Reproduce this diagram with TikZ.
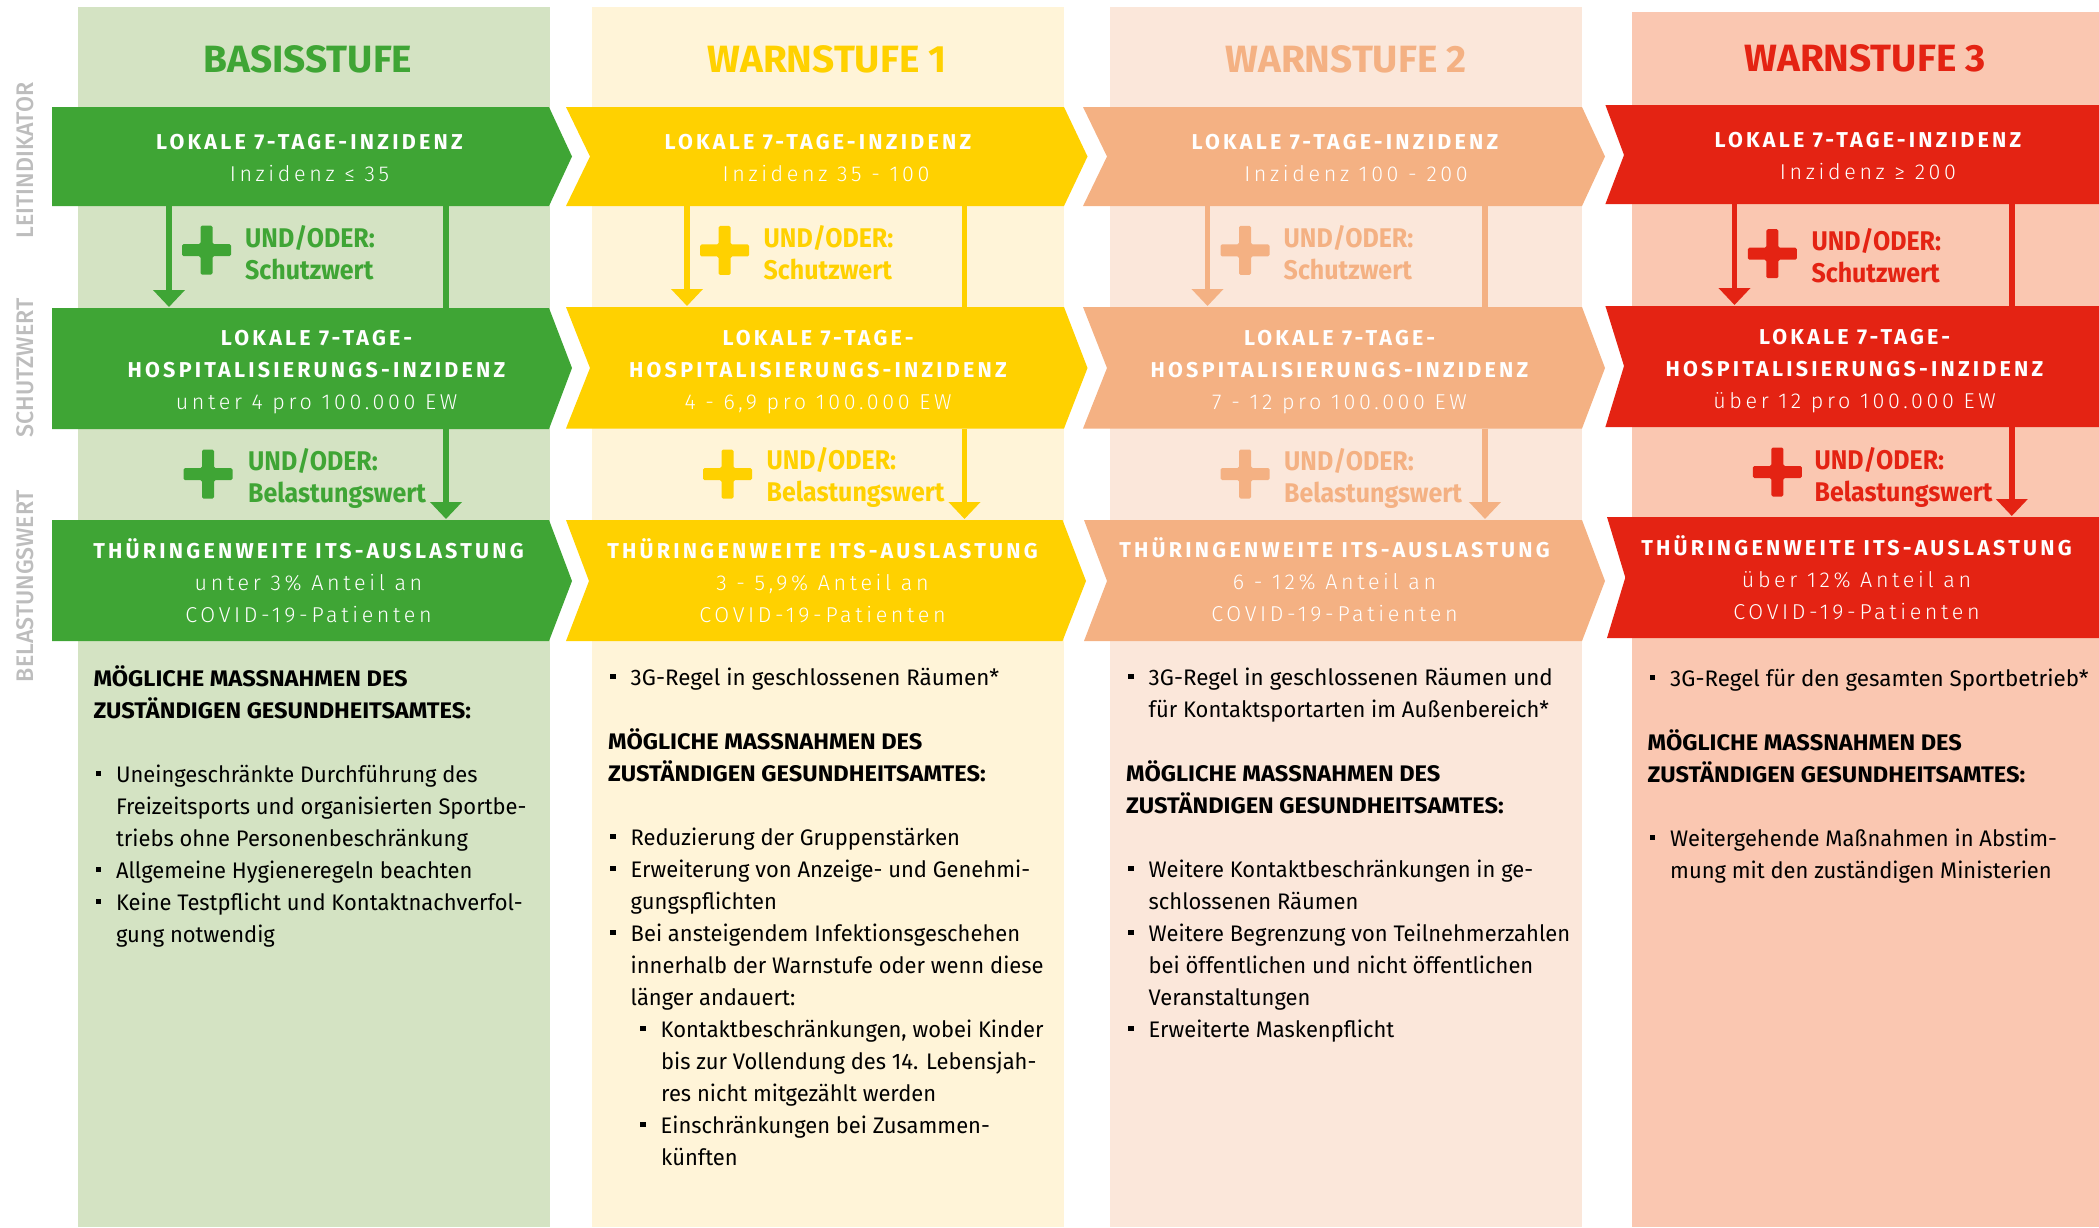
\documentclass[tikz,border=0pt]{standalone}
\usepackage{fontspec}
\usetikzlibrary{arrows.meta}
\setmainfont{Fira Sans}
\newfontfamily\bodyf[FakeStretch=0.975]{Fira Sans}
\newfontfamily\bodyw[FakeStretch=0.995]{Fira Sans}
\newfontfamily\hdfam[FakeStretch=1.05]{Fira Sans}
\newfontfamily\stufef[FakeStretch=1.02]{Fira Sans}
\newfontfamily\uofam[FakeStretch=0.925]{Fira Sans}
\newfontfamily\sidef[FakeStretch=0.965]{Fira Sans Medium}
\newfontfamily\titlef[LetterSpace=15]{Fira Sans}
\newfontfamily\subf[LetterSpace=17]{Fira Sans Light}
\definecolor{gr}{HTML}{3FA535}\definecolor{grbg}{HTML}{D4E3C3}
\definecolor{ye}{HTML}{FFD100}\definecolor{yebg}{HTML}{FFF4D8}
\definecolor{or}{HTML}{F4B183}\definecolor{orbg}{HTML}{FBE7DA}
\definecolor{re}{HTML}{E42313}\definecolor{rebg}{HTML}{FAC7B1}
\definecolor{lab}{HTML}{BDBDBD}
\tikzset{
 x=1pt,y=-1pt,
 chevbox/.style={inner sep=0pt,outer sep=0pt},
 chevlabel/.style={anchor=north,inner sep=0pt,align=center,text=white,font=\fontsize{21.5}{32}\selectfont,execute at begin node={\lineskiplimit=-100pt}},
 body/.style={anchor=north west,inner sep=0pt,align=left,text=black,font=\bodyf\fontsize{22.5}{32}\selectfont,execute at begin node={\lineskiplimit=-100pt}},
 stufe/.style={anchor=base,inner sep=0pt,font=\stufef\bfseries\fontsize{38}{40}\selectfont},
 undoder/.style={anchor=north west,inner sep=0pt,align=left,font=\uofam\bfseries\fontsize{27}{32}\selectfont,execute at begin node={\lineskiplimit=-100pt}},
 sidelabel/.style={anchor=base,inner sep=0pt,rotate=90,text=lab,font=\sidef\fontsize{24}{24}\selectfont},
 stem/.style={line width=5.5pt},
 arrowed/.style={stem,-{Triangle[width=31pt,length=17pt]}},
}
\newcommand\chev[9]{% name,color,L,N,R,T,top,bot,mid
 \fill[#2] (#3,#7) -- (#5,#7) -- (#6,#9) -- (#5,#8) -- (#3,#8) -- (#4,#9) -- cycle;
 \node[chevbox,minimum width={#5-#3},minimum height={#8-#7}] (#1) at ({(#3+#5)/2},{(#7+#8)/2}) {};
}
\newcommand\bfst{\rule{0pt}{18pt}}
\newcommand\tl[1]{{\titlef\bfseries #1}}
\newcommand\sbl[1]{{\subf #1}}
\newcommand\clab[4]{\node[chevlabel] (#1) at (#2,{#3-18}) {\bfst #4};}
\newcommand\bul{\makebox[20.5pt][l]{\rule[6pt]{5.5pt}{5.5pt}}}
\newcommand\bi{\hspace*{2pt}\bul}
\newcommand\bc{\hspace*{22.5pt}}
\newcommand\subi{\hspace*{32pt}\bul}
\newcommand\subc{\hspace*{53pt}}
\newcommand\hd[1]{{\hdfam\bfseries #1}}
\newcommand\wide[1]{{\bodyw #1}}
\newcommand\plusmark[4]{\fill[#2,rounded corners=1.5pt] ({#3-24.5},{#4-6}) -- ({#3-6},{#4-6}) -- ({#3-6},{#4-24.5}) -- ({#3+6},{#4-24.5}) -- ({#3+6},{#4-6}) -- ({#3+24.5},{#4-6}) -- ({#3+24.5},{#4+6}) -- ({#3+6},{#4+6}) -- ({#3+6},{#4+24.5}) -- ({#3-6},{#4+24.5}) -- ({#3-6},{#4+6}) -- ({#3-24.5},{#4+6}) -- cycle;}
\newcommand\uo[5]{\node[undoder,text=#2] (#1) at (#3,{#4-21}) {\rule{0pt}{20pt}UND/ODER:\\#5};}
\begin{document}
\begin{tikzpicture}
\useasboundingbox (0,0) rectangle (2099,1227);
% column backgrounds
\fill[grbg] (78,7) rectangle (550,1227);
\fill[yebg] (592,7) rectangle (1064,1227);
\fill[orbg] (1110,7) rectangle (1582,1227);
\fill[rebg] (1632,12) rectangle (2099,1227);
% side labels
\node[sidelabel] (s1) at (33,160.5) {LEITINDIKATOR};
\node[sidelabel] (s2) at (33,368) {SCHUTZWERT};
\node[sidelabel] (s3) at (33,586) {BELASTUNGSWERT};
% titles
\node[stufe,text=gr] (t1) at (308,72) {BASISSTUFE};
\node[stufe,text=ye] (t2) at (827,72) {WARNSTUFE 1};
\node[stufe,text=or] (t3) at (1346,72) {WARNSTUFE 2};
\node[stufe,text=re] (t4) at (1865,71) {WARNSTUFE 3};
% chevrons
\chev{a1}{gr}{52}{52}{549}{572}{107}{206}{156.5}
\chev{a2}{gr}{52}{52}{549}{572}{308}{429}{368}
\chev{a3}{gr}{52}{52}{549}{572}{520}{641}{581}
\chev{b1}{ye}{566}{590}{1064}{1087.5}{107}{206}{156.5}
\chev{b2}{ye}{566}{590}{1064}{1087.5}{307}{428.5}{368}
\chev{b3}{ye}{566}{589}{1062.5}{1086}{520}{641}{581}
\chev{c1}{or}{1083}{1107}{1582}{1605}{107}{206}{156.5}
\chev{c2}{or}{1083}{1107}{1582}{1605}{307}{428.5}{368}
\chev{c3}{or}{1084}{1107}{1582}{1605}{520}{641}{581}
\chev{d1}{re}{1605.4}{1624}{2099}{2099}{105}{204}{155}
\chev{d2}{re}{1605.4}{1624}{2099}{2099}{306}{427}{366}
\chev{d3}{re}{1607}{1625.3}{2099}{2099}{517}{638}{577.5}
% connectors
\coordinate (xa1) at (169,0);\coordinate (xa2) at (446,0);
\coordinate (xb1) at (687,0);\coordinate (xb2) at (964.5,0);
\coordinate (xc1) at (1207.5,0);\coordinate (xc2) at (1485,0);
\coordinate (xd1) at (1734.5,0);\coordinate (xd2) at (2011.8,0);
\foreach \c/\k in {a/gr,b/ye,c/or,d/re}{
 \draw[arrowed,\k,shorten >=1pt] (\c1.south -| x\c1) -- (\c2.north -| x\c1);
 \draw[stem,\k] (\c1.south -| x\c2) -- (\c2.north -| x\c2);
 \draw[arrowed,\k,shorten >=1pt] (\c2.south -| x\c2) -- (\c3.north -| x\c2);
}
% plus marks
\plusmark{p1}{gr}{206.5}{250}\plusmark{p2}{gr}{208}{474}
\plusmark{p3}{ye}{724.6}{250.4}\plusmark{p4}{ye}{727.5}{474}
\plusmark{p5}{or}{1245}{250.4}\plusmark{p6}{or}{1245}{474}
\plusmark{p7}{re}{1772.3}{253.7}\plusmark{p8}{re}{1777.3}{472}
% und/oder
\uo{u1}{gr}{245}{246}{Schutzwert}
\uo{u2}{gr}{248}{469}{Belastungswert}
\uo{u3}{ye}{763.5}{246}{Schutzwert}
\uo{u4}{ye}{766.4}{468}{Belastungswert}
\uo{u5}{or}{1283.5}{246}{Schutzwert}
\uo{u6}{or}{1284}{469}{Belastungswert}
\uo{u7}{re}{1811.3}{249}{Schutzwert}
\uo{u8}{re}{1814.4}{468}{Belastungswert}
% chevron labels
\clab{la1}{309.5}{149.5}{\tl{LOKALE 7-TAGE-INZIDENZ}\\\sbl{Inzidenz ≤ 35}}
\clab{la2}{316.5}{345}{\tl{LOKALE 7-TAGE-}\\\tl{HOSPITALISIERUNGS-INZIDENZ}\\\sbl{unter 4 pro 100.000 EW}}
\clab{la3}{308.5}{556}{\tl{THÜRINGENWEITE ITS-AUSLASTUNG}\\\sbl{unter 3\% Anteil an}\\\sbl{COVID-19-Patienten}}
\clab{lb1}{818}{149.5}{\tl{LOKALE 7-TAGE-INZIDENZ}\\\hspace*{16pt}\sbl{Inzidenz 35 - 100}}
\clab{lb2}{818}{345}{\tl{LOKALE 7-TAGE-}\\\tl{HOSPITALISIERUNGS-INZIDENZ}\\\sbl{4 - 6,9 pro 100.000 EW}}
\clab{lb3}{822.5}{556}{\tl{THÜRINGENWEITE ITS-AUSLASTUNG}\\\sbl{3 - 5,9\% Anteil an}\\\sbl{COVID-19-Patienten}}
\clab{lc1}{1345}{149.5}{\tl{LOKALE 7-TAGE-INZIDENZ}\\\hspace*{22pt}\sbl{Inzidenz 100 - 200}}
\clab{lc2}{1339.5}{345}{\tl{LOKALE 7-TAGE-}\\\tl{HOSPITALISIERUNGS-INZIDENZ}\\\sbl{7 - 12 pro 100.000 EW}}
\clab{lc3}{1334.5}{555}{\tl{THÜRINGENWEITE ITS-AUSLASTUNG}\\\sbl{6 - 12\% Anteil an}\\\sbl{COVID-19-Patienten}}
\clab{ld1}{1868}{147.5}{\tl{LOKALE 7-TAGE-INZIDENZ}\\\sbl{Inzidenz ≥ 200}}
\clab{ld2}{1854.5}{344.5}{\tl{LOKALE 7-TAGE-}\\\tl{HOSPITALISIERUNGS-INZIDENZ}\\\sbl{über 12 pro 100.000 EW}}
\clab{ld3}{1856.5}{553.5}{\tl{THÜRINGENWEITE ITS-AUSLASTUNG}\\\sbl{über 12\% Anteil an}\\\sbl{COVID-19-Patienten}}
% body text
\node[body] (ba) at (93.3,665) {\rule{0pt}{20pt}\hd{MÖGLICHE MASSNAHMEN DES}\\\hd{ZUSTÄNDIGEN GESUNDHEITSAMTES:}\\~\\
\bi Uneingeschränkte Durchführung des\\\bc Freizeitsports und organisierten Sportbe-\\\bc triebs ohne Personenbeschränkung\\
\bi Allgemeine Hygieneregeln beachten\\\bi Keine Testpflicht und Kontaktnachverfol-\\\bc gung notwendig};
\node[body] (bb) at (608,665) {\rule{0pt}{20pt}\bi \wide{3G-Regel in geschlossenen Räumen*}\\~\\\hd{MÖGLICHE MASSNAHMEN DES}\\\hd{ZUSTÄNDIGEN GESUNDHEITSAMTES:}\\~\\
\bi Reduzierung der Gruppenstärken\\\bi Erweiterung von Anzeige- und Genehmi-\\\bc gungspflichten\\
\bi Bei ansteigendem Infektionsgeschehen\\\bc innerhalb der Warnstufe oder wenn diese\\\bc länger andauert:\\
\subi Kontaktbeschränkungen, wobei Kinder\\\subc bis zur Vollendung des 14. Lebensjah-\\\subc res nicht mitgezählt werden\\
\subi Einschränkungen bei Zusammen-\\\subc künften};
\node[body] (bc) at (1126,665) {\rule{0pt}{20pt}\bi \wide{3G-Regel in geschlossenen Räumen und}\\\bc für Kontaktsportarten im Außenbereich*\\~\\\hd{MÖGLICHE MASSNAHMEN DES}\\\hd{ZUSTÄNDIGEN GESUNDHEITSAMTES:}\\~\\
\bi Weitere Kontaktbeschränkungen in ge-\\\bc schlossenen Räumen\\\bi Weitere Begrenzung von Teilnehmerzahlen\\\bc bei öffentlichen und nicht öffentlichen\\\bc Veranstaltungen\\\bi Erweiterte Maskenpflicht};
\node[body] (bd) at (1647.5,666) {\rule{0pt}{20pt}\bi \wide{3G-Regel für den gesamten Sportbetrieb*}\\~\\\hd{MÖGLICHE MASSNAHMEN DES}\\\hd{ZUSTÄNDIGEN GESUNDHEITSAMTES:}\\~\\
\bi Weitergehende Maßnahmen in Abstim-\\\bc mung mit den zuständigen Ministerien};
\end{tikzpicture}
\end{document}
